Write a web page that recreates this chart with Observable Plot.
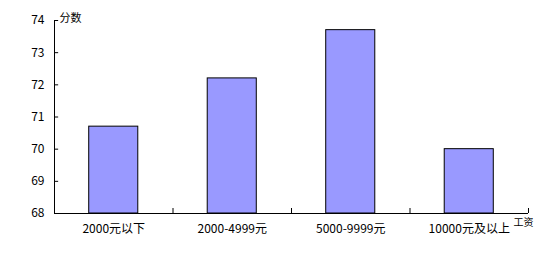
<!DOCTYPE html>
<html>
<head>
<meta charset="utf-8">
<script src="https://cdn.jsdelivr.net/npm/d3@7"></script>
<script src="https://cdn.jsdelivr.net/npm/@observablehq/plot@0.6"></script>
<style>
  html, body { margin: 0; padding: 0; background: #fff; }
</style>
</head>
<body>
<div id="chart"></div>
<script>
const categories = ["2000元以下", "2000-4999元", "5000-9999元", "10000元及以上"];
const values = [70.7, 72.2, 73.7, 70.0];
const yTicks = [68, 69, 70, 71, 72, 73, 74];
const yTitle = "分数";
const xTitle = "工资";

const data = categories.map((c, i) => ({category: c, index: i, value: values[i]}));
const half = 0.207;
const font = "'Noto Sans CJK SC', 'DejaVu Sans', sans-serif";

const chart = Plot.plot({
  width: 541,
  height: 267,
  marginLeft: 54,
  marginRight: 13,
  marginTop: 20,
  marginBottom: 54,
  style: {fontFamily: font, background: "#fff", color: "#000"},
  x: {type: "linear", domain: [0, categories.length], axis: null},
  y: {domain: [68, 74], axis: null},
  marks: [
    Plot.rectY(data, {
      x1: d => d.index + 0.5 - half,
      x2: d => d.index + 0.5 + half,
      y1: 68,
      y2: "value",
      fill: "#9999FF",
      stroke: "#000",
      strokeWidth: 1
    }),
    Plot.ruleX([0], {y1: 68, y2: 74, stroke: "#000"}),
    Plot.ruleY([68], {x1: 0, x2: categories.length, stroke: "#000"}),
    Plot.ruleY(yTicks, {x1: 0, x2: 0.035, stroke: "#000"}),
    Plot.axisY({ticks: yTicks, tickSize: 0, tickPadding: 10, fontSize: 12, label: null, tickFormat: d => String(d), fill: "#000"}),
    Plot.axisX({ticks: d3.range(1, categories.length + 1), tickSize: -5, text: null, label: null, stroke: "#000"}),
    Plot.axisX({ticks: categories.map((c, i) => i + 0.5), tickSize: 0, tickPadding: 11, fontSize: 12, label: null, fill: "#000", tickFormat: d => categories[Math.floor(d)]}),
    Plot.text([yTitle], {frameAnchor: "top-left", textAnchor: "start", dx: 5, dy: -6, fontSize: 11, fill: "#000"}),
    Plot.text([xTitle], {frameAnchor: "bottom-right", textAnchor: "start", dx: -15, dy: 12, fontSize: 10, fill: "#000"})
  ]
});
document.getElementById("chart").appendChild(chart);
</script>
</body>
</html>
